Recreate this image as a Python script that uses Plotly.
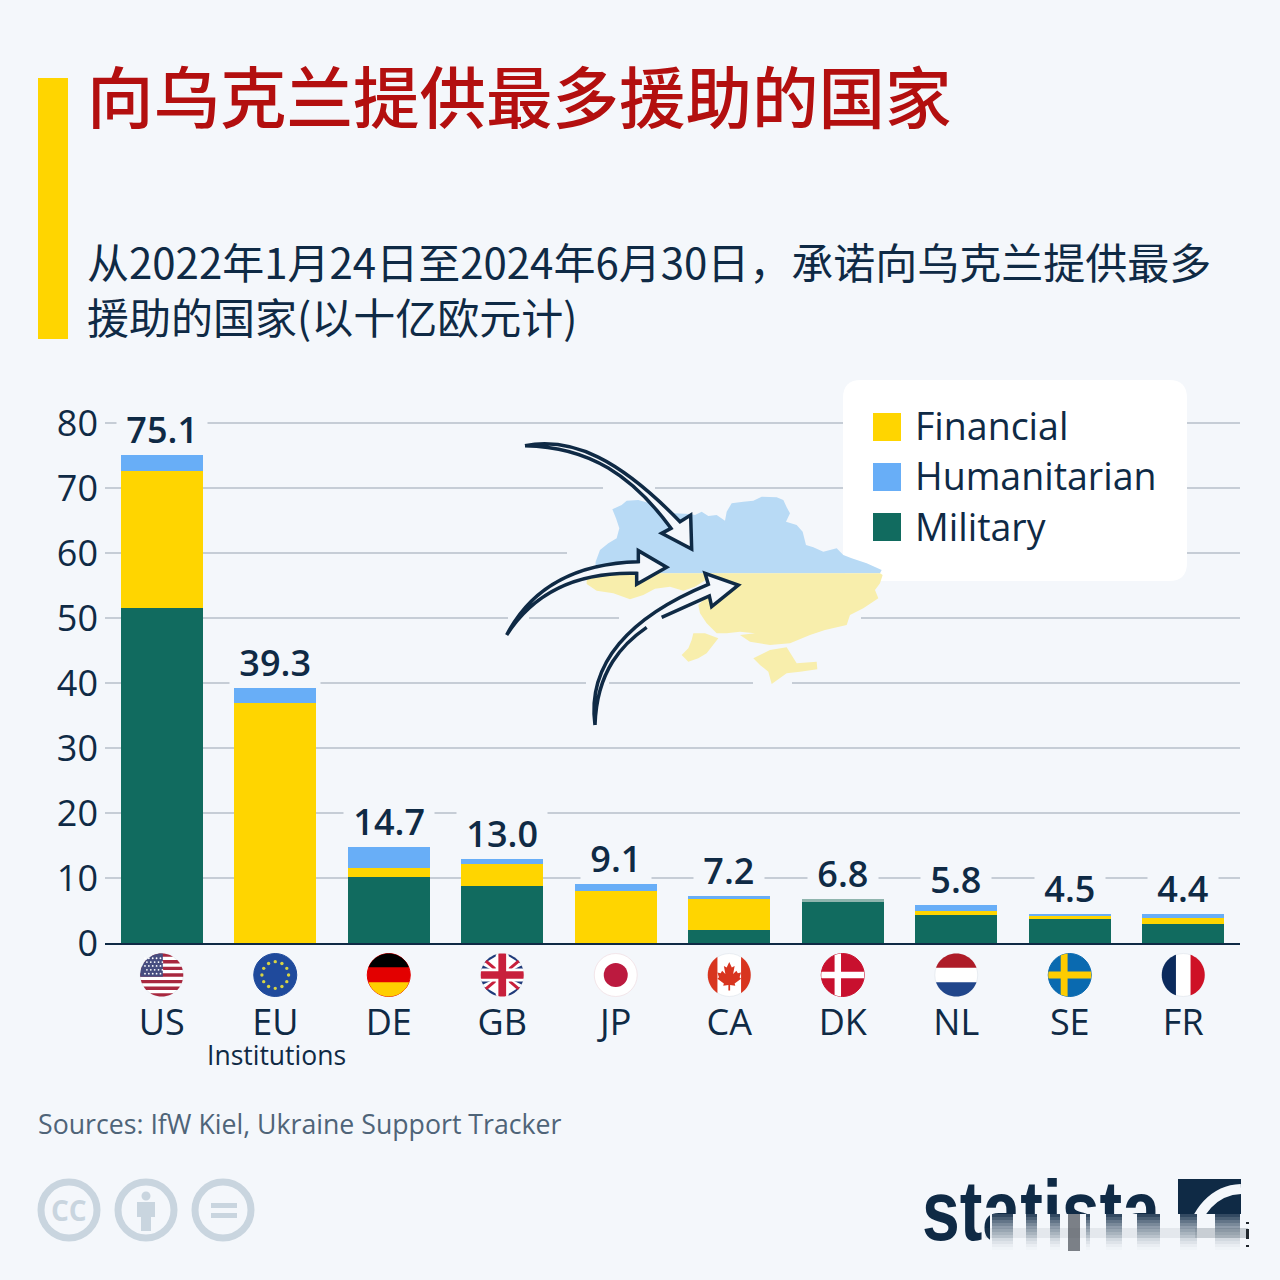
import numpy as np
import plotly.graph_objects as go

# chart data, billions of euro
countries = ["US", "EU", "DE", "GB", "JP", "CA", "DK", "NL", "SE", "FR"]
totals = [75.1, 39.3, 14.7, 13.0, 9.1, 7.2, 6.8, 5.8, 4.5, 4.4]
military = [51.6, 0, 10.1, 8.8, 0, 2.0, 6.35, 4.25, 3.75, 2.87]
financial = [21.0, 36.9, 1.4, 3.35, 8.05, 4.7, 0, 0.75, 0.4, 0.93]
humanitarian = [2.5, 2.4, 3.2, 0.85, 1.05, 0.5, 0.45, 0.8, 0.35, 0.6]
y_ticks = [0, 10, 20, 30, 40, 50, 60, 70, 80]

BG = "#f4f7fb"
NAVY = "#0f2a45"
YELLOW = "#ffd500"
BLUE = "#68aef7"
GREEN = "#116b5f"
GRID = "#c6cdd6"
ICON = "#c9d5df"
SANS = "Open Sans"
CJK = "Noto Sans CJK SC"

shapes = []
annotations = []


# picture pixels -> paper coords (margins are 0)
def P(x, y):
    return "%.5f,%.5f" % (x / 1280, 1 - y / 1280)


def polygon(pts, color, **kw):
    path = "M" + " L".join(P(x, y) for x, y in pts) + " Z"
    shapes.append(dict(type="path", path=path, xref="paper", yref="paper", layer="above",
                       fillcolor=color, line=dict(width=0), **kw))


def rect(x0, y0, x1, y1, color, opacity=1):
    polygon([(x0, y0), (x1, y0), (x1, y1), (x0, y1)], color, opacity=opacity)


def round_rect(x0, y0, x1, y1, r, color):
    path = ("M" + P(x0 + r, y0) + " L" + P(x1 - r, y0) + " Q" + P(x1, y0) + " " + P(x1, y0 + r)
            + " L" + P(x1, y1 - r) + " Q" + P(x1, y1) + " " + P(x1 - r, y1)
            + " L" + P(x0 + r, y1) + " Q" + P(x0, y1) + " " + P(x0, y1 - r)
            + " L" + P(x0, y0 + r) + " Q" + P(x0, y0) + " " + P(x0 + r, y0) + " Z")
    shapes.append(dict(type="path", path=path, xref="paper", yref="paper", layer="above",
                       fillcolor=color, line=dict(width=0)))


def circle(cx, cy, r, fill, line=None, width=0):
    shapes.append(dict(type="circle", xref="paper", yref="paper", layer="above",
                       x0=(cx - r) / 1280, x1=(cx + r) / 1280,
                       y0=1 - (cy + r) / 1280, y1=1 - (cy - r) / 1280,
                       fillcolor=fill, line=dict(width=width, color=line or fill)))


def text(s, x, y, size, color=NAVY, family=SANS, xanchor="left", weight=400):
    annotations.append(dict(text=s, x=x / 1280, y=1 - y / 1280, xref="paper", yref="paper",
                            showarrow=False, xanchor=xanchor, yanchor="middle", align="left",
                            font=dict(size=size, color=color, family=family, weight=weight)))


# ---- flags, drawn in a unit circle and clipped to it
ring = [(np.cos(a), np.sin(a)) for a in np.linspace(0, 2 * np.pi, 60, endpoint=False)]


def clip_circle(pts):
    out = list(pts)
    for i in range(len(ring)):
        ax, ay = ring[i]
        bx, by = ring[(i + 1) % len(ring)]
        side = lambda p: (bx - ax) * (p[1] - ay) - (by - ay) * (p[0] - ax)
        new = []
        for j in range(len(out)):
            p, q = out[j], out[(j + 1) % len(out)]
            sp, sq = side(p), side(q)
            if sp >= 0:
                new.append(p)
            if sp * sq < 0:
                t = sp / (sp - sq)
                new.append((p[0] + t * (q[0] - p[0]), p[1] + t * (q[1] - p[1])))
        out = new
        if not out:
            break
    return out


FLAG_Y = 975
FLAG_R = 21.5


def part(cx, pts, color):
    c = clip_circle(pts)
    polygon([(cx + FLAG_R * x, FLAG_Y + FLAG_R * y) for x, y in c], color)


def box(cx, x0, y0, x1, y1, color):
    part(cx, [(x0, y0), (x1, y0), (x1, y1), (x0, y1)], color)


def diag(cx, x0, y0, x1, y1, w, color):
    n = np.hypot(x1 - x0, y1 - y0)
    dx, dy = -(y1 - y0) / n * w, (x1 - x0) / n * w
    part(cx, [(x0 + dx, y0 + dy), (x1 + dx, y1 + dy), (x1 - dx, y1 - dy), (x0 - dx, y0 - dy)], color)


def base(cx, color, edge=None):
    circle(cx, FLAG_Y, FLAG_R, color, edge or color, 1)


def draw_us(cx):
    base(cx, "#ffffff", "#e9edf2")
    h = 2 / 13
    for k in range(0, 13, 2):
        box(cx, -1, -1 + k * h, 1, -1 + (k + 1) * h, "#a8283f")
    box(cx, -1, -1, 0.05, 0.08, "#474d80")
    for iy in range(5):
        for ix in range(5):
            circle(cx + FLAG_R * (-0.78 + ix * 0.18 + 0.09 * (iy % 2)),
                   FLAG_Y + FLAG_R * (-0.78 + iy * 0.18), 0.9, "#ffffff")


def draw_eu(cx):
    base(cx, "#1f4a9c")
    for a in np.arange(0, 2 * np.pi, np.pi / 6):
        circle(cx + FLAG_R * 0.62 * np.cos(a), FLAG_Y + FLAG_R * 0.62 * np.sin(a), 1.7, "#d8d443")


def draw_de(cx):
    base(cx, "#e30000")
    box(cx, -1, -1, 1, -0.36, "#000000")
    box(cx, -1, 0.34, 1, 1, "#ffce00")


def draw_gb(cx):
    base(cx, "#ffffff", "#e9edf2")
    for s in (-1, 1):
        part(cx, [(s * 0.25, -1), (s * 1, -1), (s * 1, -0.45), (s * 0.25, -0.9)], "#1f3a7a")
        part(cx, [(s * 0.25, 1), (s * 1, 1), (s * 1, 0.45), (s * 0.25, 0.9)], "#1f3a7a")
        part(cx, [(s * 1, -0.25), (s * 1, -0.5), (s * 0.5, -0.25)], "#1f3a7a")
        part(cx, [(s * 1, 0.25), (s * 1, 0.5), (s * 0.5, 0.25)], "#1f3a7a")
    diag(cx, -1, -0.85, 1, 0.85, 0.07, "#c8203c")
    diag(cx, -1, 0.85, 1, -0.85, 0.07, "#c8203c")
    box(cx, -1, -0.3, 1, 0.3, "#ffffff")
    box(cx, -0.3, -1, 0.3, 1, "#ffffff")
    box(cx, -1, -0.18, 1, 0.18, "#c8203c")
    box(cx, -0.18, -1, 0.18, 1, "#c8203c")


def draw_jp(cx):
    base(cx, "#ffffff", "#f3e6ea")
    circle(cx, FLAG_Y, 12, "#bc1a3f")


def draw_ca(cx):
    base(cx, "#ffffff", "#e9edf2")
    box(cx, -1, -1, -0.55, 1, "#d8351f")
    box(cx, 0.55, -1, 1, 1, "#d8351f")
    leaf = [(0, -0.6), (0.12, -0.35), (0.25, -0.42), (0.18, -0.05), (0.33, -0.2), (0.4, -0.08),
            (0.55, -0.12), (0.48, 0.1), (0.55, 0.18), (0.25, 0.4), (0.28, 0.5), (0.04, 0.46),
            (0.04, 0.72), (-0.04, 0.72), (-0.04, 0.46), (-0.28, 0.5), (-0.25, 0.4), (-0.55, 0.18),
            (-0.48, 0.1), (-0.55, -0.12), (-0.4, -0.08), (-0.33, -0.2), (-0.18, -0.05),
            (-0.25, -0.42), (-0.12, -0.35)]
    polygon([(cx + FLAG_R * x, FLAG_Y + FLAG_R * y) for x, y in leaf], "#d8351f")


def draw_dk(cx):
    base(cx, "#c8102e")
    box(cx, -0.38, -1, -0.08, 1, "#ffffff")
    box(cx, -1, -0.15, 1, 0.15, "#ffffff")


def draw_nl(cx):
    base(cx, "#ffffff", "#e9edf2")
    box(cx, -1, -1, 1, -0.34, "#ae1c28")
    box(cx, -1, 0.34, 1, 1, "#21468b")


def draw_se(cx):
    base(cx, "#0a6ab0")
    box(cx, -0.42, -1, -0.1, 1, "#fecc00")
    box(cx, -1, -0.16, 1, 0.16, "#fecc00")


def draw_fr(cx):
    base(cx, "#ffffff", "#e9edf2")
    box(cx, -1, -1, -0.34, 1, "#0b2a5c")
    box(cx, 0.34, -1, 1, 1, "#ce1126")


flags = [draw_us, draw_eu, draw_de, draw_gb, draw_jp, draw_ca, draw_dk, draw_nl, draw_se, draw_fr]

# y range runs a little past 80, plotly drops a gridline sitting right on the axis end
Y_MAX = 81
PX_PER_UNIT = 6.5
PLOT_L, PLOT_R, PLOT_B = 105, 1240, 943
PLOT_T = PLOT_B - Y_MAX * PX_PER_UNIT
step = (PLOT_R - PLOT_L) / len(countries)
for i, draw in enumerate(flags):
    draw(PLOT_L + (i + 0.5) * step)

# ---- gaps in the gridlines around the map and arrows
grid_gaps = [(488, 603, 655), (553, 567, 860), (618, 508, 529), (618, 619, 861),
             (683, 586, 609), (683, 753, 792)]
for gy, x0, x1 in grid_gaps:
    rect(x0, gy - 2, x1, gy + 2, BG)

# legend card goes under the map, the map's east end lies over it
round_rect(843, 380, 1187, 581, 18, "#ffffff")


# ---- Ukraine map (traced on a 3x crop)
def Z5(pts):
    return [(580 + x / 3, 490 + y / 3) for x, y in pts]


polygon(Z5([(45, 250), (47, 215), (60, 180), (85, 160), (110, 145), (118, 115), (108, 85), (97, 58),
            (125, 45), (140, 32), (175, 30), (210, 40), (240, 50), (280, 70), (330, 72), (345, 75),
            (365, 65), (385, 78), (410, 75), (435, 92), (440, 65), (455, 40), (490, 35), (520, 32),
            (545, 20), (590, 22), (610, 30), (620, 52), (630, 70), (618, 95), (650, 105), (668, 125),
            (678, 165), (700, 172), (730, 185), (770, 175), (790, 195), (815, 205), (860, 220),
            (905, 240), (900, 250)]), "#b8daf5")
map_yellow = "#f8eeac"
polygon(Z5([(900, 250), (908, 255), (900, 280), (885, 300), (895, 325), (850, 355), (810, 375),
            (800, 405), (735, 420), (690, 435), (630, 460), (570, 465), (510, 455), (480, 435),
            (525, 430), (480, 425), (440, 430), (410, 430), (380, 400), (360, 370), (355, 345),
            (400, 300), (375, 250)]), map_yellow)
polygon(Z5([(20, 250), (20, 282), (50, 302), (100, 310), (150, 328), (190, 315), (225, 296), (270, 290),
            (310, 302), (345, 290), (385, 265), (375, 250)]), map_yellow)
polygon(Z5([(340, 430), (375, 430), (415, 445), (395, 470), (380, 490), (355, 505), (325, 515),
            (305, 495), (325, 475), (335, 450)]), map_yellow)
polygon(Z5([(520, 505), (570, 480), (620, 472), (650, 520), (710, 515), (712, 538), (660, 545),
            (620, 550), (575, 582), (565, 545), (540, 525)]), map_yellow)


# ---- arrows
def Z6(x, y):
    return P(490 + x / 3, 430 + y / 3)


def path_of(cmds):
    out = []
    for c, pts in cmds:
        if c == "L":
            out.extend("L" + Z6(x, y) for x, y in pts)
        else:
            out.append(c + " ".join(Z6(x, y) for x, y in pts))
    return " ".join(out)


def arrow(fill_cmds, stroke_cmds):
    shapes.append(dict(type="path", path=path_of(fill_cmds) + " Z", xref="paper", yref="paper",
                       layer="above", fillcolor=BG, line=dict(width=0)))
    shapes.append(dict(type="path", path=path_of(stroke_cmds), xref="paper", yref="paper",
                       layer="above", fillcolor="rgba(0,0,0,0)", line=dict(width=3.5, color=NAVY)))


a1 = [("M", [(105, 47)]), ("C", [(250, 20), (390, 90), (570, 275)]),
      ("L", [(602, 255), (605, 357), (515, 310), (543, 295)]),
      ("C", [(430, 140), (300, 50), (105, 47)])]
arrow(a1, a1)
a2 = [("M", [(50, 615)]), ("C", [(120, 480), (250, 400), (445, 395)]),
      ("L", [(445, 362), (530, 412), (440, 463), (440, 430)]),
      ("C", [(260, 425), (130, 490), (50, 615)])]
arrow(a2, a2)
a3_fill = [("M", [(315, 885)]), ("C", [(290, 700), (420, 560), (655, 463)]),
           ("L", [(645, 430), (745, 465), (665, 530), (658, 498), (515, 562), (470, 592)]),
           ("C", [(400, 640), (320, 720), (315, 885)])]
a3_stroke = [("M", [(315, 885)]), ("C", [(290, 700), (420, 560), (655, 463)]),
             ("L", [(645, 430), (745, 465), (665, 530), (658, 498), (515, 562)]),
             ("M", [(470, 592)]), ("C", [(400, 640), (320, 720), (315, 885)])]
arrow(a3_fill, a3_stroke)

# ---- legend entries
legend_items = [("Financial", YELLOW, 427), ("Humanitarian", BLUE, 477), ("Military", GREEN, 527)]
for name, col, ly in legend_items:
    rect(873, ly - 14, 901, ly + 14, col)
    text(name, 913, ly - 1, 37.5)

# ---- header
rect(38, 78, 68, 339, YELLOW)
text("向乌克兰提供最多援助的国家", 85, 94, 66.5, "#b30f0f", CJK, weight=500)
text("从2022年1月24日至2024年6月30日，承诺向乌克兰提供最多<br>援助的国家(以十亿欧元计)", 85, 288, 42, NAVY, CJK)

# ---- footer
text("Institutions", 276, 1055, 26.5, NAVY, xanchor="center")
text("Sources: IfW Kiel, Ukraine Support Tracker", 36, 1123, 26.7, "#4f6478")

for cx in (69, 146, 223):
    circle(cx, 1210, 28, "rgba(0,0,0,0)", ICON, 7)
text("CC", 69, 1210, 28, ICON, xanchor="center", weight=700)
circle(146, 1196, 4.5, ICON)
rect(137, 1202, 155, 1217, ICON)
rect(141, 1217, 151, 1231, ICON)
rect(211, 1203, 237, 1208, ICON)
rect(211, 1213, 237, 1218, ICON)

# statista mark, its lower part is smeared into vertical streaks in the reference
rect(1178, 1179, 1241, 1245, NAVY)
shapes.append(dict(type="path", xref="paper", yref="paper", layer="above", fillcolor="rgba(0,0,0,0)",
                   path="M" + P(1241, 1189) + " C" + P(1215, 1190) + " " + P(1195, 1210) + " " + P(1189, 1245),
                   line=dict(width=10, color=BG)))
rect(990, 1214, 1252, 1256, BG)
streaks = [(992, 1013), (1026, 1037), (1050, 1060), (1086, 1090), (1106, 1122),
           (1137, 1160), (1180, 1197), (1215, 1240)]
for sx0, sx1 in streaks:
    for k in range(12):
        rect(sx0, 1214 + k * 3, sx1, 1217 + k * 3, NAVY, 0.85 * (1 - k / 12) ** 1.6)
rect(985, 1228, 1248, 1238, "#5b6773", 0.1)
rect(1195, 1228, 1248, 1238, "#5b6773", 0.2)
rect(1068, 1214, 1080, 1251, "#3a4048", 0.65)
rect(1246, 1229, 1249, 1239, "#20262c")
rect(1246, 1222, 1249, 1224, "#20262c")
rect(1246, 1245, 1249, 1247, "#20262c")

# ---- figure
fig = go.Figure()
for name, vals, col in (("Military", military, GREEN), ("Financial", financial, YELLOW)):
    fig.add_trace(go.Bar(x=countries, y=vals, name=name, marker=dict(color=col, line=dict(width=0))))
hum_colors = [BLUE] * len(countries)
hum_colors[countries.index("DK")] = "#8fb5ae"
fig.add_trace(go.Bar(x=countries, y=humanitarian, name="Humanitarian",
                     marker=dict(color=hum_colors, line=dict(width=0))))

# logo lettering as a trace so the smear shapes can sit over it
fig.add_trace(go.Scatter(x=[922], y=[1218], mode="text", text=["statista"], textposition="middle right",
                         textfont=dict(family="Liberation Sans", size=86, color=NAVY, weight=700),
                         xaxis="x2", yaxis="y2", hoverinfo="skip"))

for c, t in zip(countries, totals):
    annotations.append(dict(x=c, y=t, xref="x", yref="y", text="\u00a0%.1f\u00a0" % t, showarrow=False,
                            yanchor="bottom", bgcolor=BG, borderpad=0,
                            font=dict(size=36, color=NAVY, family=SANS, weight=600)))

fig.update_layout(
    width=1280, height=1280, barmode="stack", bargap=0.278, showlegend=False,
    paper_bgcolor=BG, plot_bgcolor="rgba(0,0,0,0)",
    margin=dict(l=0, r=0, t=0, b=0, autoexpand=False),
    font=dict(family=SANS, color=NAVY),
    xaxis=dict(domain=[PLOT_L / 1280, PLOT_R / 1280], type="category", range=[-0.5, 9.5],
               showgrid=False, showline=True, linecolor=NAVY, linewidth=2, ticks="",
               tickfont=dict(size=36, color=NAVY), ticklabelstandoff=47),
    yaxis=dict(domain=[1 - PLOT_B / 1280, 1 - PLOT_T / 1280], range=[0, Y_MAX], tickvals=y_ticks,
               gridcolor=GRID, gridwidth=2, zeroline=False, showline=False, ticks="",
               tickfont=dict(size=36, color=NAVY), ticklabelstandoff=6),
    xaxis2=dict(domain=[0, 1], range=[0, 1280], visible=False, anchor="y2"),
    yaxis2=dict(domain=[0, 1], range=[1280, 0], visible=False, anchor="x2"),
    shapes=shapes, annotations=annotations,
)

# page margin off, and squeeze the logo lettering to its condensed width
squeeze = """
document.body.style.margin = '0';
document.querySelectorAll('.textpoint text').forEach(function (t) {
    t.setAttribute('textLength', '238');
    t.setAttribute('lengthAdjust', 'spacingAndGlyphs');
});
"""
fig.write_html("out.html", post_script=squeeze, config=dict(displayModeBar=False))
